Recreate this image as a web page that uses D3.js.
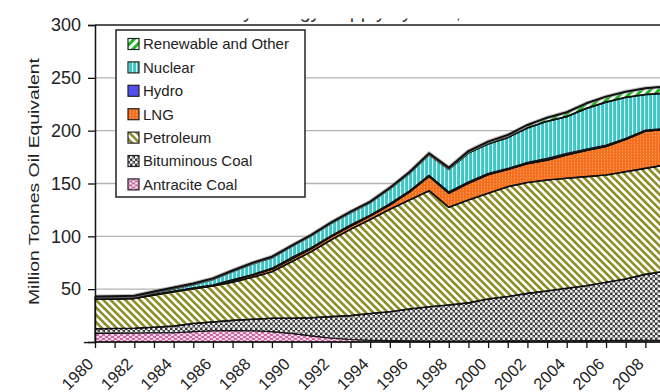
<!DOCTYPE html>
<html>
<head>
<meta charset="utf-8">
<script src="https://cdn.jsdelivr.net/npm/d3@7/dist/d3.min.js"></script>
<style>
  html, body { margin: 0; padding: 0; background: #fff; }
  svg { display: block; }
  text { font-family: "Liberation Sans", Arial, sans-serif; fill: #222; }
</style>
</head>
<body>
<svg id="chart" width="660" height="392"></svg>
<script>
// Primary energy supply by source, million tonnes oil equivalent
const years = [1980, 1981, 1982, 1983, 1984, 1985, 1986, 1987, 1988, 1989,
               1990, 1991, 1992, 1993, 1994, 1995, 1996, 1997, 1998, 1999,
               2000, 2001, 2002, 2003, 2004, 2005, 2006, 2007, 2008, 2009];
const yTicks = [0, 50, 100, 150, 200, 250, 300];

const antracite  = [8.2, 8.4, 8.5, 8.7, 8.8, 9.8, 10.7, 10.8, 10.7, 9.8,
                    8.2, 5.8, 3.8, 2.3, 1.6, 1.3, 1.1, 1.0, 1.0, 1.0,
                    1.0, 1.1, 1.1, 1.2, 1.2, 1.3, 1.4, 1.5, 1.6, 1.7];
const bituminous = [4.3, 4.4, 4.5, 5.3, 6.2, 7.7, 8.3, 9.7, 10.8, 12.7,
                    14.3, 17.2, 20.2, 22.7, 25.4, 27.4, 30.1, 32.4, 34.0, 36.0,
                    39.7, 41.9, 44.9, 47.1, 49.6, 52.0, 55.1, 58.1, 62.4, 65.3];
const petroleum  = [27.9, 28.0, 28.3, 30.5, 32.6, 33.0, 34.0, 36.0, 39.7, 44.0,
                    53.5, 62.5, 72.5, 81.6, 89.0, 96.9, 103.2, 109.8, 92.5, 97.4,
                    100.0, 104.0, 105.0, 105.0, 104.1, 103.2, 101.5, 101.6, 100.3, 100.5];
const lng        = [0, 0, 0, 0, 0, 0, 0.2, 1.5, 2.0, 2.3,
                    2.5, 2.8, 3.0, 3.0, 3.3, 4.0, 7.5, 13.5, 13.3, 15.8,
                    17.6, 16.3, 17.7, 18.8, 22.2, 24.8, 27.1, 30.5, 35.1, 33.5];
const hydro      = [0.5, 0.6, 0.4, 0.6, 0.6, 0.9, 1.0, 1.2, 0.7, 1.1,
                    1.6, 1.2, 1.1, 1.3, 0.9, 1.4, 1.3, 1.3, 1.5, 1.5,
                    1.4, 1.0, 1.3, 1.7, 1.5, 1.3, 1.3, 1.1, 1.2, 1.2];
const nuclear    = [0.9, 0.7, 0.8, 1.5, 2.2, 3.0, 5.0, 7.5, 10.0, 9.8,
                    10.2, 11.0, 11.6, 11.5, 11.7, 14.0, 16.5, 19.3, 21.2, 27.2,
                    27.8, 29.2, 32.6, 35.1, 34.7, 38.5, 40.6, 38.8, 33.6, 33.3];
const renewable  = [1.3, 1.3, 1.2, 1.2, 1.2, 1.0, 1.0, 1.0, 1.0, 1.0,
                    0.8, 0.8, 0.8, 0.9, 0.9, 1.0, 1.2, 1.3, 1.5, 1.8,
                    2.1, 2.4, 2.8, 3.4, 4.1, 4.8, 5.2, 5.3, 5.9, 6.1];

const seriesKeys   = ["antracite", "bituminous", "petroleum", "lng", "hydro", "nuclear", "renewable"];
const seriesLabels = ["Antracite Coal", "Bituminous Coal", "Petroleum", "LNG", "Hydro", "Nuclear", "Renewable and Other"];
const seriesValues = [antracite, bituminous, petroleum, lng, hydro, nuclear, renewable];

const rows = years.map((yr, i) => {
  const r = { year: yr };
  seriesKeys.forEach((k, j) => { r[k] = seriesValues[j][i]; });
  return r;
});

const svg = d3.select("#chart");
const defs = svg.append("defs");

// ---- fill patterns ----
function stripes(id, w, h, bg, fg, stripeW, angle) {
  const p = defs.append("pattern").attr("id", id)
    .attr("patternUnits", "userSpaceOnUse").attr("width", w).attr("height", h);
  if (angle) p.attr("patternTransform", `rotate(${angle})`);
  p.append("rect").attr("width", w).attr("height", h).attr("fill", bg);
  p.append("rect").attr("x", 0).attr("y", 0)
    .attr("width", stripeW).attr("height", h).attr("fill", fg);
  return p;
}
stripes("pat-petroleum", 5.2, 10, "#ffffff", "#8e8e28", 2.6, -45);
stripes("pat-nuclear", 4, 4, "#3ec6c6", "#dffafa", 1.1, 0);
stripes("pat-renewable", 6, 6, "#ffffff", "#22b522", 3, 45);

const pl = defs.append("pattern").attr("id", "pat-lng")
  .attr("patternUnits", "userSpaceOnUse").attr("width", 3).attr("height", 3);
pl.append("rect").attr("width", 3).attr("height", 3).attr("fill", "#f4701e");
pl.append("rect").attr("x", 1).attr("y", 0).attr("width", 1).attr("height", 1.5).attr("fill", "#fa9b5e");

// bituminous: white blobs on a dark mesh
const pb = defs.append("pattern").attr("id", "pat-bituminous")
  .attr("patternUnits", "userSpaceOnUse").attr("width", 5).attr("height", 5);
pb.append("rect").attr("width", 5).attr("height", 5).attr("fill", "#353535");
[[1.25, 1.25], [3.75, 3.75]].forEach(([cx, cy]) =>
  pb.append("circle").attr("cx", cx).attr("cy", cy).attr("r", 1.45).attr("fill", "#f0f0f0"));
pb.append("circle").attr("cx", 3.75).attr("cy", 1.25).attr("r", 0.6).attr("fill", "#8a8a8a");

// antracite: pink with white flecks
const pa = defs.append("pattern").attr("id", "pat-antracite")
  .attr("patternUnits", "userSpaceOnUse").attr("width", 6).attr("height", 4);
pa.append("rect").attr("width", 6).attr("height", 4).attr("fill", "#cd67a2");
[[1.5, 1], [4.5, 3]].forEach(([cx, cy]) =>
  pa.append("ellipse").attr("cx", cx).attr("cy", cy).attr("rx", 1.7).attr("ry", 0.9).attr("fill", "#fdf2f8"));

const fills = {
  antracite: "url(#pat-antracite)",
  bituminous: "url(#pat-bituminous)",
  petroleum: "url(#pat-petroleum)",
  lng: "url(#pat-lng)",
  hydro: "#5050ee",
  nuclear: "url(#pat-nuclear)",
  renewable: "url(#pat-renewable)"
};

// ---- scales ----
const x = d3.scaleLinear().domain([1980, 2009]).range([95, 665]);
const y = d3.scaleLinear().domain([0, 300]).range([342, 25]);

// ---- title (only its lower edge shows above the frame) ----
defs.append("clipPath").attr("id", "title-clip")
  .append("rect").attr("x", 0).attr("y", 18.4).attr("width", 660).attr("height", 5);
svg.append("text")
  .attr("clip-path", "url(#title-clip)")
  .attr("x", 185.4).attr("y", 18)
  .style("font-size", "19.6px").style("fill", "#333")
  .text("Primary Energy Supply by Fuel, 1980-2009");

// ---- gridlines ----
svg.append("g").selectAll("line")
  .data(yTicks.filter(v => v > 0 && v < 300))
  .join("line")
  .attr("x1", x(1980)).attr("x2", 660)
  .attr("y1", d => y(d)).attr("y2", d => y(d))
  .attr("stroke", "#b3b3b3").attr("stroke-width", 1.4);
svg.append("line")
  .attr("x1", x(1980)).attr("x2", 660)
  .attr("y1", y(300)).attr("y2", y(300))
  .attr("stroke", "#555").attr("stroke-width", 2.2);

// ---- stacked areas ----
const stack = d3.stack().keys(seriesKeys);
const layers = stack(rows);

const area = d3.area()
  .x(d => x(d.data.year))
  .y0(d => y(d[0]))
  .y1(d => y(d[1]));
const topLine = d3.line()
  .x(d => x(d.data.year))
  .y(d => y(d[1]));

const gArea = svg.append("g");
gArea.selectAll("path.layer")
  .data(layers)
  .join("path")
  .attr("class", "layer")
  .attr("d", area)
  .attr("fill", d => fills[d.key])
  .attr("stroke", "#111")
  .attr("stroke-width", 1.1)
  .attr("stroke-linejoin", "round");

gArea.selectAll("path.edge")
  .data(layers.filter(l => ["bituminous", "petroleum", "lng", "nuclear"].includes(l.key)))
  .join("path")
  .attr("class", "edge")
  .attr("d", topLine)
  .attr("fill", "none")
  .attr("stroke", "#111")
  .attr("stroke-width", d => d.key === "nuclear" ? 1.8 : 1.6)
  .attr("stroke-linejoin", "round");

const totalLayer = layers[layers.length - 1];
gArea.append("path")
  .attr("d", topLine(totalLayer))
  .attr("fill", "none")
  .attr("stroke", "#999").attr("stroke-opacity", 0.6)
  .attr("stroke-width", 4);
gArea.append("path")
  .attr("d", topLine(totalLayer))
  .attr("fill", "none")
  .attr("stroke", "#111")
  .attr("stroke-width", 2)
  .attr("stroke-linejoin", "round");

// ---- axes ----
const yAxis = d3.axisLeft(y)
  .tickValues(yTicks)
  .tickSize(7)
  .tickPadding(7)
  .tickFormat(d => d === 0 ? "-" : d);
const gy = svg.append("g").attr("transform", `translate(${x(1980)},0)`).call(yAxis);
gy.select(".domain").attr("stroke", "#111").attr("stroke-width", 1.5);
gy.selectAll(".tick line").attr("stroke", "#111").attr("stroke-width", 1.3);
gy.selectAll(".tick text")
  .style("font-size", "18px").style("fill", "#222")
  .attr("x", d => d === 0 ? -6 : -14);

const xAxis = d3.axisBottom(x)
  .tickValues(years)
  .tickSize(6)
  .tickFormat(d => d % 2 === 0 ? String(d) : "");
const gx = svg.append("g").attr("transform", `translate(0,${y(0)})`).call(xAxis);
gx.select(".domain").attr("stroke", "#111").attr("stroke-width", 1.5).attr("d", `M${x(1980)},0H660`);
gx.selectAll(".tick line").attr("stroke", "#111").attr("stroke-width", 1.3);
gx.selectAll(".tick text")
  .style("font-size", "16.5px").style("fill", "#222")
  .attr("x", 0).attr("y", 0).attr("dy", null)
  .attr("text-anchor", "end")
  .attr("transform", "translate(-1,23) rotate(-45)");

// ---- y-axis title ----
svg.append("text")
  .attr("transform", "translate(39,181.5) rotate(-90)")
  .attr("text-anchor", "middle")
  .attr("textLength", 247).attr("lengthAdjust", "spacingAndGlyphs")
  .style("font-size", "15px").style("fill", "#222")
  .text("Million Tonnes Oil Equivalent");

// ---- legend ----
const legend = svg.append("g");
legend.append("rect")
  .attr("x", 116).attr("y", 30).attr("width", 189).attr("height", 167)
  .attr("fill", "#fff").attr("stroke", "#222").attr("stroke-width", 1.5);
const legendOrder = seriesKeys.map((k, i) => ({ key: k, label: seriesLabels[i] })).reverse();
const li = legend.selectAll("g.item")
  .data(legendOrder)
  .join("g")
  .attr("class", "item")
  .attr("transform", (d, i) => `translate(0,${44 + i * 23.4})`);
li.append("rect")
  .attr("x", 128).attr("y", -5.5).attr("width", 11).attr("height", 11)
  .attr("fill", d => fills[d.key]).attr("stroke", "#222").attr("stroke-width", 1.2);
li.append("text")
  .attr("x", 143).attr("y", 5.3)
  .style("font-size", "15px").style("fill", "#222")
  .text(d => d.label);
</script>
</body>
</html>
